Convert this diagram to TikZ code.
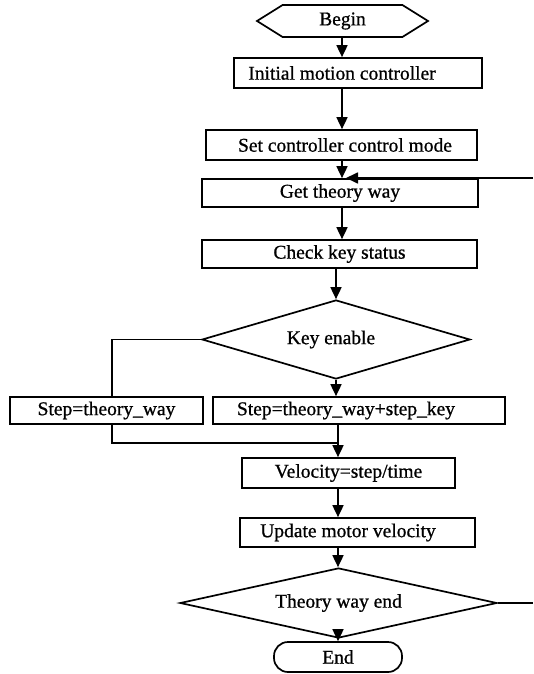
\documentclass[tikz,border=0pt]{standalone}
\usepackage{fontspec}
\setmainfont{Liberation Serif}[RawFeature={embolden=0.8}]
\usetikzlibrary{shapes.geometric,shapes.symbols,arrows.meta}
\begin{document}
\begin{tikzpicture}[x=1pt,y=1pt,
  every node/.style={inner sep=0pt,font=\fontsize{19.5}{22}\selectfont},
  box/.style={draw,line width=1.7pt,rectangle},
  dec/.style={draw,line width=1.7pt,diamond},
  term/.style={draw,line width=1.7pt,rounded corners=14pt},
  hexa/.style={draw,line width=1.7pt,signal,signal to=west and east,signal pointer angle=64},
  ln/.style={line width=1.7pt},
  arr/.style={line width=1.7pt,-{Triangle[length=12pt,width=11pt]}}]
\useasboundingbox (0,0) rectangle (533,-674);
% axes
\coordinate (ax) at (342,0);
\coordinate (kx) at (336,0);
\coordinate (lo) at (338,0);
\coordinate (lx) at (112,0);
% nodes
\node[hexa,minimum width=171pt,minimum height=32pt] (begin) at (342.5,-21) {Begin};
\node[box,minimum width=248pt,minimum height=30pt,label={[xshift=-16pt]center:Initial motion controller}] (init) at (358,-73) {};
\node[box,minimum width=271pt,minimum height=30pt,label={[xshift=3.5pt]center:Set controller control mode}] (mode) at (341.5,-145) {};
\node[box,minimum width=276pt,minimum height=28pt] (get) at (340,-193) {Get theory way};
\node[box,minimum width=275pt,minimum height=28pt] (check) at (339.5,-254) {Check key status};
\node[dec,aspect=3.4,minimum width=268pt,minimum height=79pt,label={[xshift=-5pt]center:Key enable}] (key) at (336,-339.5) {};
\node[box,minimum width=193pt,minimum height=27pt] (sleft) at (106.5,-410.5) {Step=theory\_way};
\node[box,minimum width=292pt,minimum height=27pt,label={[xshift=-13pt]center:Step=theory\_way+step\_key}] (sright) at (359,-410.5) {};
\node[box,minimum width=213pt,minimum height=30pt] (vel) at (348.5,-473) {Velocity=step/time};
\node[box,minimum width=235pt,minimum height=29pt,label={[xshift=-9.5pt]center:Update motor velocity}] (upd) at (357.5,-532.5) {};
\node[dec,aspect=4.5,minimum width=317pt,minimum height=70pt] (tend) at (338.5,-603) {Theory way end};
\node[term,minimum width=128pt,minimum height=30pt] (endn) at (338,-657) {End};
% free ends
\coordinate (jn) at (346,-178);
\coordinate (re2) at (533,-178);
\coordinate (re1) at (533,-603);
\coordinate (mg) at (338,-443);
% connectors
\draw[arr] (begin.south -| ax) -- (init.north -| ax);
\draw[arr] (init.south -| ax) -- (mode.north -| ax);
\draw[arr] (mode.south -| ax) -- (get.north -| ax);
\draw[arr] (get.south -| ax) -- (check.north -| ax);
\draw[arr] (check.south -| kx) -- (key.north);
\draw[arr] (key.south) -- (sright.north -| kx);
\draw[ln] (key.west) -| (sleft.north -| lx);
\draw[ln] (sleft.south -| lx) |- (mg);
\draw[arr] (sright.south -| lo) -- (vel.north -| lo);
\draw[arr] (vel.south -| lo) -- (upd.north -| lo);
\draw[arr] (upd.south -| lo) -- (tend.north -| lo);
\draw[arr] (tend.south -| lo) -- (endn.north -| lo);
\draw[ln] (tend.east) -- (re1);
\draw[arr] (re2) -- (jn);
\end{tikzpicture}
\end{document}
